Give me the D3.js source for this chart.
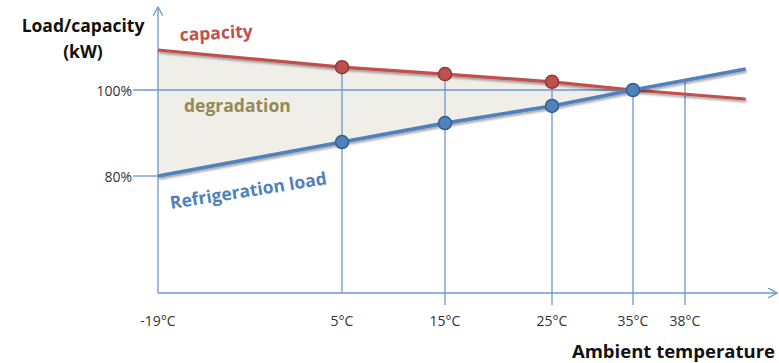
<!DOCTYPE html>
<html>
<head>
<meta charset="utf-8">
<script src="https://cdn.jsdelivr.net/npm/d3@7"></script>
<style>
  body { margin: 0; background: #fff; }
  text { font-family: "Open Sans", "Liberation Sans", sans-serif; }
</style>
</head>
<body>
<div id="chart"></div>
<script>
// schematic temperatures (x) and percentages (y)
const temps = [5, 15, 25, 35];
const tickTemps = [-19, 5, 15, 25, 35, 38];
const tickLabels = ["-19°C", "5°C", "15°C", "25°C", "35°C", "38°C"];
const capacityTemps = [-19, 5, 15, 25, 35, 41.5];
const capacityVals = [109.3, 105.3, 103.7, 101.9, 100, 97.9];
const loadTemps = [-19, 5, 15, 25, 35, 41.5];
const loadVals = [80, 87.9, 92.3, 96.3, 100, 104.9];
const yTicks = [100, 80];

const width = 779, height = 363;
const svg = d3.select("#chart").append("svg")
  .attr("width", width).attr("height", height);

// x positions in the source are not evenly spaced, so use a piecewise scale
const x = d3.scaleLinear()
  .domain([-19, 5, 15, 25, 35, 38])
  .range([158, 342, 445, 552, 633, 685]);
const y = d3.scaleLinear().domain([80, 100]).range([176, 90]);

const axisCol = "#6f97cc";
const red = "#c0504d", blue = "#4f81bd";

const capacity = capacityTemps.map((t, i) => ({t, v: capacityVals[i]}));
const load = loadTemps.map((t, i) => ({t, v: loadVals[i]}));
const capAt = t => d3.scaleLinear().domain(capacityTemps).range(capacityVals)(t);
const loadAt = t => d3.scaleLinear().domain(loadTemps).range(loadVals)(t);

const defs = svg.append("defs");
const f = defs.append("filter").attr("id", "shadow")
  .attr("x", "-5%").attr("y", "-50%").attr("width", "110%").attr("height", "200%");
f.append("feDropShadow").attr("dx", 1).attr("dy", 2).attr("stdDeviation", 1.2)
  .attr("flood-color", "#000").attr("flood-opacity", 0.35);
defs.append("marker").attr("id", "arrow")
  .attr("viewBox", "0 0 10 10").attr("refX", 9).attr("refY", 5)
  .attr("markerWidth", 10).attr("markerHeight", 10).attr("markerUnits", "userSpaceOnUse")
  .attr("orient", "auto")
  .append("path").attr("d", "M0,0 L9,5 L0,10").attr("fill", "none")
  .attr("stroke", axisCol).attr("stroke-width", 1.3);

// degradation area between the lines up to 35°C
const areaTemps = [-19, 5, 15, 25, 35];
svg.append("path")
  .datum(areaTemps)
  .attr("fill", "#efeee8")
  .attr("d", d3.area().x(t => x(t)).y0(t => y(loadAt(t))).y1(t => y(capAt(t))));

// axes
const bottom = 293;
svg.append("line").attr("x1", x(-19)).attr("x2", 777).attr("y1", bottom).attr("y2", bottom)
  .attr("stroke", axisCol).attr("stroke-width", 1.3).attr("marker-end", "url(#arrow)");
svg.append("line").attr("x1", x(-19)).attr("x2", x(-19)).attr("y1", bottom).attr("y2", 7)
  .attr("stroke", axisCol).attr("stroke-width", 1.3).attr("marker-end", "url(#arrow)");

// y reference lines
svg.append("line").attr("x1", 133).attr("x2", x(35)).attr("y1", y(100)).attr("y2", y(100))
  .attr("stroke", axisCol).attr("stroke-width", 1.3);
svg.append("line").attr("x1", 133).attr("x2", x(-19)).attr("y1", y(80)).attr("y2", y(80))
  .attr("stroke", axisCol).attr("stroke-width", 1.3);
svg.selectAll(".ylab").data(yTicks).join("text")
  .attr("x", 132).attr("y", d => y(d) + 1).attr("dy", "0.35em")
  .attr("text-anchor", "end").attr("font-size", 14).attr("fill", "#333")
  .text(d => d + "%");

// vertical lines from below the axis to the points
const vTops = [
  {t: 5, v: capAt(5), ext: 0},
  {t: 15, v: capAt(15), ext: 12},
  {t: 25, v: capAt(25), ext: 12},
  {t: 35, v: capAt(35), ext: 12},
  {t: 38, v: loadAt(38), ext: 12}
];
svg.selectAll(".vline").data(vTops).join("line")
  .attr("x1", d => x(d.t)).attr("x2", d => x(d.t))
  .attr("y1", d => bottom + d.ext).attr("y2", d => y(d.v))
  .attr("stroke", axisCol).attr("stroke-width", 1.3);

svg.selectAll(".xlab").data(tickTemps).join("text")
  .attr("x", d => x(d)).attr("y", 321).attr("dy", "0.35em")
  .attr("text-anchor", "middle").attr("font-size", 14).attr("fill", "#333")
  .text((d, i) => tickLabels[i]);

// lines
const line = d3.line().x(d => x(d.t)).y(d => y(d.v));
svg.append("path").datum(capacity).attr("d", line)
  .attr("fill", "none").attr("stroke", red).attr("stroke-width", 3.2).attr("filter", "url(#shadow)");
svg.append("path").datum(load).attr("d", line)
  .attr("fill", "none").attr("stroke", blue).attr("stroke-width", 3.6).attr("filter", "url(#shadow)");

// points
svg.selectAll(".cap").data(temps.filter(t => t !== 35)).join("circle")
  .attr("cx", d => x(d)).attr("cy", d => y(capAt(d))).attr("r", 6.5)
  .attr("fill", red).attr("stroke", "#8c3836").attr("stroke-width", 1.5);
svg.selectAll(".load").data(temps).join("circle")
  .attr("cx", d => x(d)).attr("cy", d => y(loadAt(d))).attr("r", 6.5)
  .attr("fill", blue).attr("stroke", "#385d8a").attr("stroke-width", 1.5);

// labels
svg.append("text").attr("x", 83).attr("y", 32).attr("text-anchor", "middle")
  .attr("font-size", 17.5).attr("font-weight", "bold").attr("fill", "#111").text("Load/capacity");
svg.append("text").attr("x", 83).attr("y", 58).attr("text-anchor", "middle")
  .attr("font-size", 17.5).attr("font-weight", "bold").attr("fill", "#111").text("(kW)");
svg.append("text").attr("transform", "translate(180,41) rotate(-3)")
  .attr("font-size", 17.5).attr("font-weight", "bold").attr("fill", red).text("capacity");
svg.append("text").attr("x", 184).attr("y", 112)
  .attr("font-size", 17.5).attr("font-weight", "bold").attr("fill", "#948a54").text("degradation");
svg.append("text").attr("transform", "translate(171,209) rotate(-9)")
  .attr("font-size", 17.5).attr("font-weight", "bold").attr("fill", blue).text("Refrigeration load");
svg.append("text").attr("x", 775).attr("y", 358).attr("text-anchor", "end")
  .attr("font-size", 18.5).attr("font-weight", "bold").attr("fill", "#111").text("Ambient temperature");
</script>
</body>
</html>
